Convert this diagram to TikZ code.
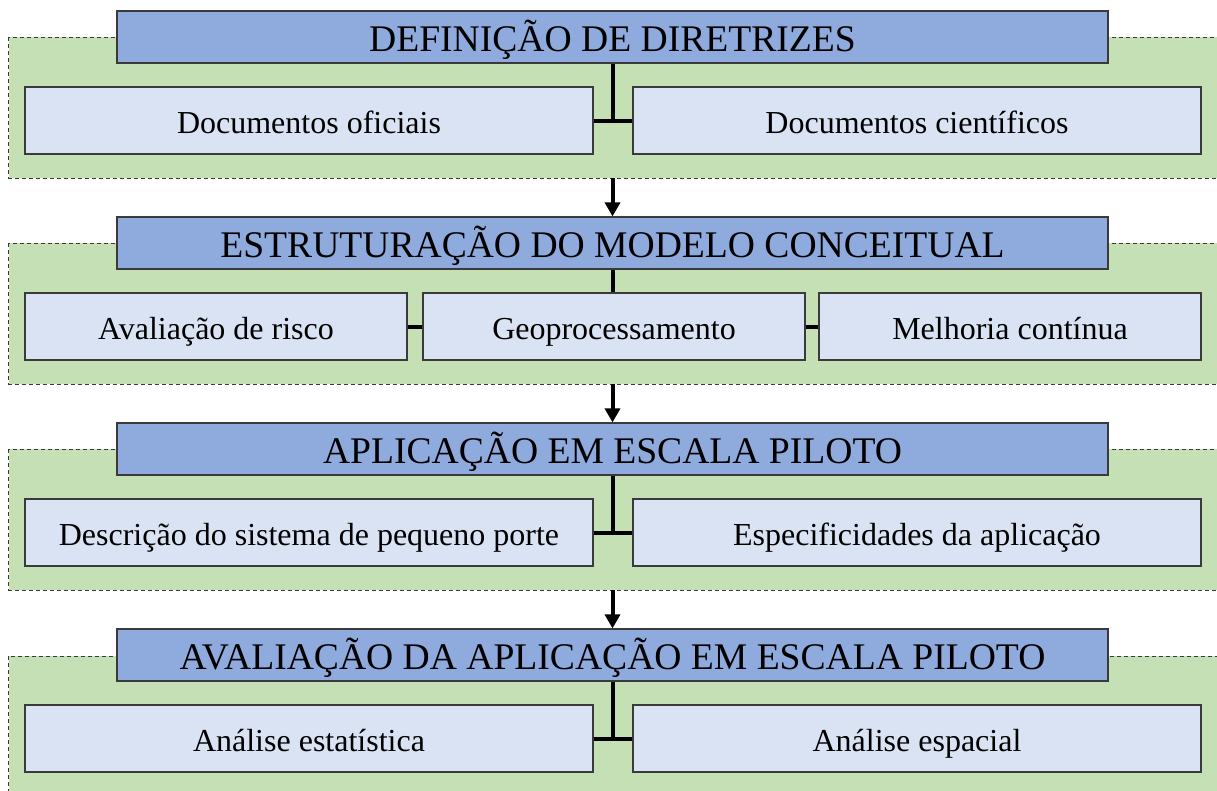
\documentclass[tikz,border=0pt]{standalone}
\usepackage{fontspec}
\setmainfont{Liberation Serif}
\usetikzlibrary{arrows.meta}
\definecolor{hdrfill}{HTML}{8FAADC}
\definecolor{panelfill}{HTML}{C5E0B4}
\definecolor{subfill}{HTML}{DAE3F3}
\definecolor{edge}{HTML}{3A3A3A}
\tikzset{
  panel/.style={fill=panelfill,draw=edge,line width=1pt,dash pattern=on 4pt off 3pt},
  hdr/.style={fill=hdrfill,draw=edge,line width=1.2pt,minimum width=991pt,minimum height=52pt,inner sep=0pt,text height=32pt,text depth=2.6pt,font=\fontsize{37.6}{40}\selectfont},
  subbox/.style={fill=subfill,draw=edge,line width=1.2pt,minimum height=67pt,inner sep=0pt,text height=28pt,text depth=2.4pt,font=\fontsize{32}{34}\selectfont},
  wide/.style={minimum width=568pt},
  narrow/.style={minimum width=382pt},
  link/.style={line width=4pt},
  flow/.style={line width=4pt,-{Triangle[width=15pt,length=14pt]}}
}
\begin{document}
\begin{tikzpicture}[x=1pt,y=-1pt]
\useasboundingbox (0,0) rectangle (1217,790);
\fill[white] (0,0) rectangle (1217,790);
% panels
\path[panel] (8.5,37) rectangle (1240,178);
\path[panel] (8.5,243) rectangle (1240,384);
\path[panel] (8.5,449) rectangle (1240,590);
\path[panel] (8.5,656) rectangle (1240,810);
\coordinate (p1) at (612.5,178);
\coordinate (p2) at (612.5,384);
\coordinate (p3) at (612.5,590);
% headers
\node[hdr] (h1) at (612.5,37) {DEFINIÇÃO DE DIRETRIZES};
\node[hdr] (h2) at (612.5,243) {ESTRUTURAÇÃO DO MODELO CONCEITUAL};
\node[hdr] (h3) at (612.5,449) {APLICAÇÃO EM ESCALA PILOTO};
\node[hdr] (h4) at (612.5,655) {AVALIAÇÃO DA APLICAÇÃO EM ESCALA PILOTO};
% sub boxes
\node[subbox,wide] (a1) at (309,120.5) {Documentos oficiais};
\node[subbox,wide] (b1) at (917,120.5) {Documentos científicos};
\node[subbox,narrow] (a2) at (216,326.5) {Avaliação de risco};
\node[subbox,narrow] (c2) at (614,326.5) {Geoprocessamento};
\node[subbox,narrow] (b2) at (1010,326.5) {Melhoria contínua};
\node[subbox,wide] (a3) at (309,532.5) {Descrição do sistema de pequeno porte};
\node[subbox,wide] (b3) at (917,532.5) {Especificidades da aplicação};
\node[subbox,wide] (a4) at (309,738.5) {Análise estatística};
\node[subbox,wide] (b4) at (917,738.5) {Análise espacial};
% links
\draw[link] (h1.south) -- (h1.south |- a1.east);
\draw[link] (a1.east) -- (b1.west);
\draw[link] (h2.south) -- (h2.south |- c2.north);
\draw[link] (a2.east) -- (c2.west);
\draw[link] (c2.east) -- (b2.west);
\draw[link] (h3.south) -- (h3.south |- a3.east);
\draw[link] (a3.east) -- (b3.west);
\draw[link] (h4.south) -- (h4.south |- a4.east);
\draw[link] (a4.east) -- (b4.west);
% flow arrows
\draw[flow] (p1) -- (h2.north);
\draw[flow] (p2) -- (h3.north);
\draw[flow] (p3) -- (h4.north);
\end{tikzpicture}
\end{document}
